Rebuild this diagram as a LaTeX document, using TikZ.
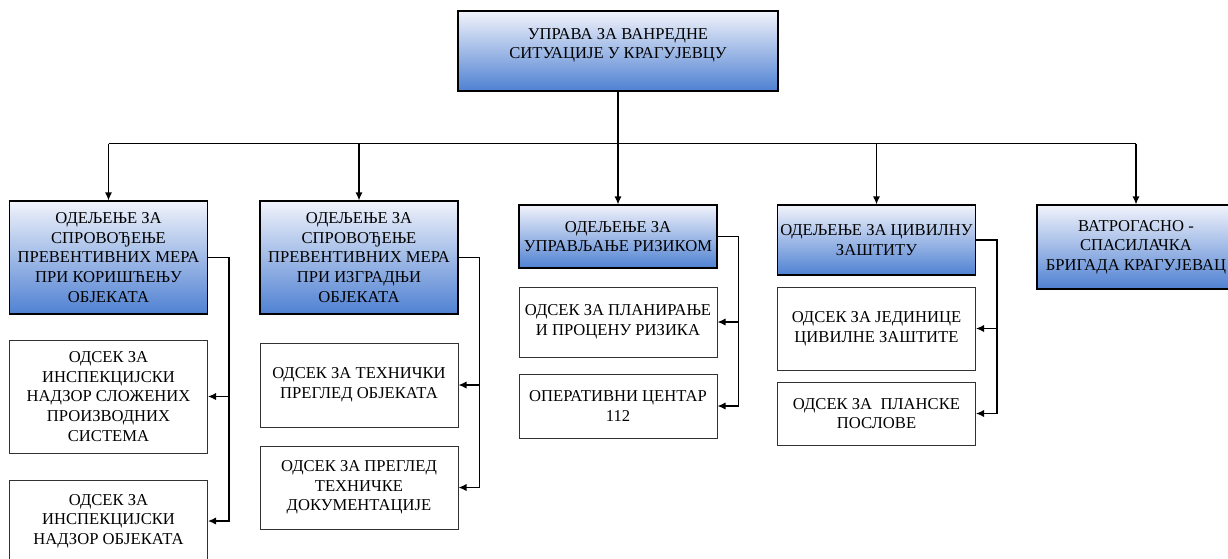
\documentclass[tikz,border=0pt]{standalone}
\usepackage{fontspec}
\setmainfont{Liberation Serif}
\usetikzlibrary{arrows.meta}
\definecolor{gradTop}{RGB}{241,243,251}
\definecolor{gradBot}{RGB}{79,129,210}
\definecolor{borderGray}{RGB}{50,50,50}
\tikzset{
  uprava/.style={rectangle, draw=black, line width=0.6pt, top color=gradTop, bottom color=gradBot, minimum width=160pt, minimum height=40pt, inner sep=0pt, font=\fontsize{8.3}{9.8}\selectfont},
  odeljenje/.style={rectangle, draw=black, line width=0.6pt, top color=gradTop, bottom color=gradBot, minimum width=99pt, inner sep=1pt, align=center, font=\fontsize{8.3}{9.8}\selectfont},
  odsek/.style={rectangle, draw=borderGray, line width=0.5pt, fill=white, minimum width=99pt, inner sep=1pt, align=center, font=\fontsize{8.3}{9.8}\selectfont},
  arrow/.style={line width=0.65pt, -{Latex[length=4pt,width=3.6pt]}},
  busline/.style={line width=0.6pt}
}
\begin{document}
\begin{tikzpicture}[x=0.5pt, y=-0.5pt]
  \useasboundingbox (0,0) rectangle (1228,558);
  \clip (0,0) rectangle (1228,558);

  % Uprava
  \node[uprava] (upr) at (618,51) {\parbox[c][40pt][t]{160pt}{\centering\vspace*{8.5pt}УПРАВА ЗА ВАНРЕДНЕ\\СИТУАЦИЈЕ У КРАГУЈЕВЦУ}};

  % Odeljenja
  \node[odeljenje, minimum height=56.5pt] (d1) at (108.5,257.5) {ОДЕЉЕЊЕ ЗА\\СПРОВОЂЕЊЕ\\ПРЕВЕНТИВНИХ МЕРА\\ПРИ КОРИШЋЕЊУ\\ОБЈЕКАТА};
  \node[odeljenje, minimum height=56.5pt] (d2) at (359,257.5) {ОДЕЉЕЊЕ ЗА\\СПРОВОЂЕЊЕ\\ПРЕВЕНТИВНИХ МЕРА\\ПРИ ИЗГРАДЊИ\\ОБЈЕКАТА};
  \node[odeljenje, minimum height=31.5pt] (d3) at (618,236.5) {ОДЕЉЕЊЕ ЗА\\УПРАВЉАЊЕ РИЗИКОМ};
  \node[odeljenje, minimum height=35pt] (d4) at (876.5,240) {ОДЕЉЕЊЕ ЗА ЦИВИЛНУ\\ЗАШТИТУ};
  \node[odeljenje, minimum height=42pt] (d5) at (1136,247) {ВАТРОГАСНО -\\СПАСИЛАЧКА\\БРИГАДА КРАГУЈЕВАЦ};

  % Odseci
  \node[odsek, minimum height=56.5pt] (s11) at (108.5,396.5) {ОДСЕК ЗА\\ИНСПЕКЦИЈСКИ\\НАДЗОР СЛОЖЕНИХ\\ПРОИЗВОДНИХ\\СИСТЕМА};
  \node[odsek, minimum height=41pt] (s12) at (108.5,521) {ОДСЕК ЗА\\ИНСПЕКЦИЈСКИ\\НАДЗОР ОБЈЕКАТА};
  \node[odsek, minimum height=42pt] (s21) at (359,385) {ОДСЕК ЗА ТЕХНИЧКИ\\ПРЕГЛЕД ОБЈЕКАТА};
  \node[odsek, minimum height=41.5pt] (s22) at (359,487.5) {ОДСЕК ЗА ПРЕГЛЕД\\ТЕХНИЧКЕ\\ДОКУМЕНТАЦИЈЕ};
  \node[odsek, minimum height=35pt] (s31) at (618,322) {ОДСЕК ЗА ПЛАНИРАЊЕ\\И ПРОЦЕНУ РИЗИКА};
  \node[odsek, minimum height=32pt] (s32) at (618,406) {ОПЕРАТИВНИ ЦЕНТАР\\112};
  \node[odsek, minimum height=41.5pt] (s41) at (876.5,328.5) {ОДСЕК ЗА ЈЕДИНИЦЕ\\ЦИВИЛНЕ ЗАШТИТЕ};
  \node[odsek, minimum height=31.5pt] (s42) at (876.5,413.5) {ОДСЕК ЗА\ \ ПЛАНСКЕ\\ПОСЛОВЕ};

  % Veze
  \draw[line width=1pt] (upr.south) -- ++(0,52) coordinate (bus);
  \draw[busline] (bus -| d1.north) -- (bus -| d5.north);
  \foreach \d in {d1,d2,d3,d4,d5}
    \draw[arrow] (bus -| \d.north) -- (\d.north);

  \draw[arrow] (d1.east) -- ++(21,0) |- (s11.east);
  \draw[arrow] (d1.east) -- ++(21,0) |- (s12.east);
  \draw[arrow] (d2.east) -- ++(21,0) |- (s21.east);
  \draw[arrow] (d2.east) -- ++(21,0) |- (s22.east);
  \draw[arrow] (d3.east) -- ++(21,0) |- (s31.east);
  \draw[arrow] (d3.east) -- ++(21,0) |- (s32.east);
  \draw[arrow] (d4.east) -- ++(21,0) |- (s41.east);
  \draw[arrow] (d4.east) -- ++(21,0) |- (s42.east);
\end{tikzpicture}
\end{document}
